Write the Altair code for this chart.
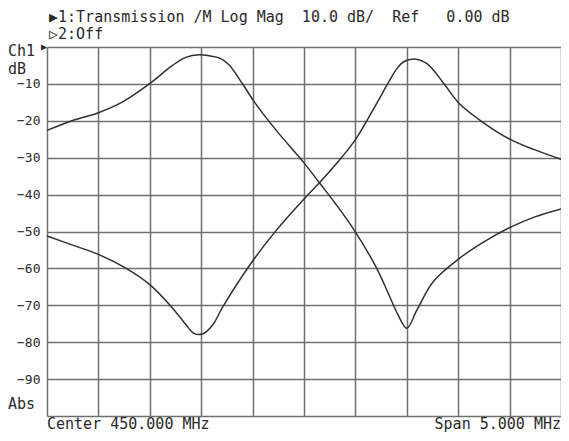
import altair as alt
import pandas as pd

# ---- data (frequency in MHz, level in dB) ----
a_freq = [447.50, 447.75, 448.00, 448.24, 448.50, 448.72, 448.85, 448.98, 449.08,
          449.18, 449.27, 449.40, 449.52, 449.73, 450.00, 450.15, 450.31, 450.49,
          450.70, 450.83, 450.91, 451.00, 451.10, 451.26, 451.51, 451.75, 452.01,
          452.24, 452.50]
a_db = [-22.6, -19.9, -17.8, -14.8, -9.9, -5.0, -2.8, -2.1, -2.4,
        -3.0, -4.8, -9.9, -15.0, -22.6, -31.4, -36.8, -42.6, -49.7,
        -59.6, -67.4, -72.3, -76.2, -71.2, -63.5, -57.3, -52.8, -48.8,
        -46.1, -43.9]

b_freq = [447.50, 447.75, 448.00, 448.27, 448.50, 448.72, 448.85, 448.93, 449.01,
          449.11, 449.21, 449.48, 449.73, 450.00, 450.15, 450.31, 450.50, 450.67,
          450.83, 450.90, 450.97, 451.09, 451.20, 451.36, 451.51, 451.75, 452.01,
          452.24, 452.51]
b_db = [-51.2, -53.7, -56.2, -60.0, -64.4, -70.7, -75.2, -77.6, -77.8,
        -75.4, -70.4, -58.8, -49.7, -41.2, -36.8, -31.8, -25.1, -17.1,
        -9.2, -6.0, -4.0, -3.3, -4.6, -9.9, -15.3, -20.6, -25.1,
        -27.8, -30.5]

x_grid = [447.5, 448.0, 448.5, 449.0, 449.5, 450.0, 450.5, 451.0, 451.5, 452.0, 452.5]
y_grid = [-100, -90, -80, -70, -60, -50, -40, -30, -20, -10, 0]

header_lines = ["▶1:Transmission /M Log Mag  10.0 dB/  Ref   0.00 dB", "▷2:Off"]
channel_label = ["Ch1"]
unit_label = ["dB"]
format_label = ["Abs"]
center_label = ["Center 450.000 MHz"]
span_label = ["Span 5.000 MHz"]

FONT = "DejaVu Sans Mono"
INK = "#2a2a2a"
PLOT_W = 514
PLOT_H = 369


def nb(s):
    return s.replace(" ", "\u00a0")


rows = [{"f": f, "db": d, "trace": "A"} for f, d in zip(a_freq, a_db)]
rows += [{"f": f, "db": d, "trace": "B"} for f, d in zip(b_freq, b_db)]
df = pd.DataFrame(rows)

lines = alt.Chart(df).mark_line(
    interpolate="catmull-rom", color="#303030", strokeWidth=1.5
).encode(
    x=alt.X("f:Q", scale=alt.Scale(domain=[447.5, 452.5], nice=False, zero=False),
            axis=alt.Axis(values=x_grid, labels=False, ticks=False, domain=False,
                          title=None, grid=True, gridColor="#707070", gridWidth=1.5)),
    y=alt.Y("db:Q", scale=alt.Scale(domain=[-100, 0], nice=False),
            axis=alt.Axis(values=y_grid, ticks=False, domain=False, title=None,
                          grid=True, gridColor="#707070", gridWidth=1.5,
                          labelExpr="datum.value == 0 || datum.value == -100 ? '' : format(datum.value, 'd')",
                          labelFont=FONT, labelFontSize=13, labelColor=INK,
                          labelPadding=7)),
    detail="trace:N",
)


def txt(values, x, y, align="left", size=15, baseline="middle"):
    d = pd.DataFrame({"t": [nb(v) for v in values]})
    return alt.Chart(d).mark_text(
        align=align, baseline=baseline, font=FONT, fontSize=size, color=INK
    ).encode(x=alt.value(x), y=alt.value(y), text="t:N")


layers = [
    lines,
    txt([header_lines[0]], 2, -30),
    txt([header_lines[1]], 2, -13),
    txt(channel_label, -39, 4),
    txt(["▶"], 0, 0, align="right", size=10),
    txt(unit_label, -39, 22),
    txt(format_label, -39, 357),
    txt(center_label, 0, 382, baseline="alphabetic"),
    txt(span_label, PLOT_W, 382, align="right", baseline="alphabetic"),
]

chart = alt.layer(*layers).properties(
    width=PLOT_W,
    height=PLOT_H,
    autosize=alt.AutoSizeParams(type="none"),
    padding={"left": 39, "top": 39, "right": 0, "bottom": 17},
).configure_view(stroke="#303030", strokeWidth=1.6).configure(background="white")

chart.save("out.html", embed_options={"renderer": "svg", "actions": False})
